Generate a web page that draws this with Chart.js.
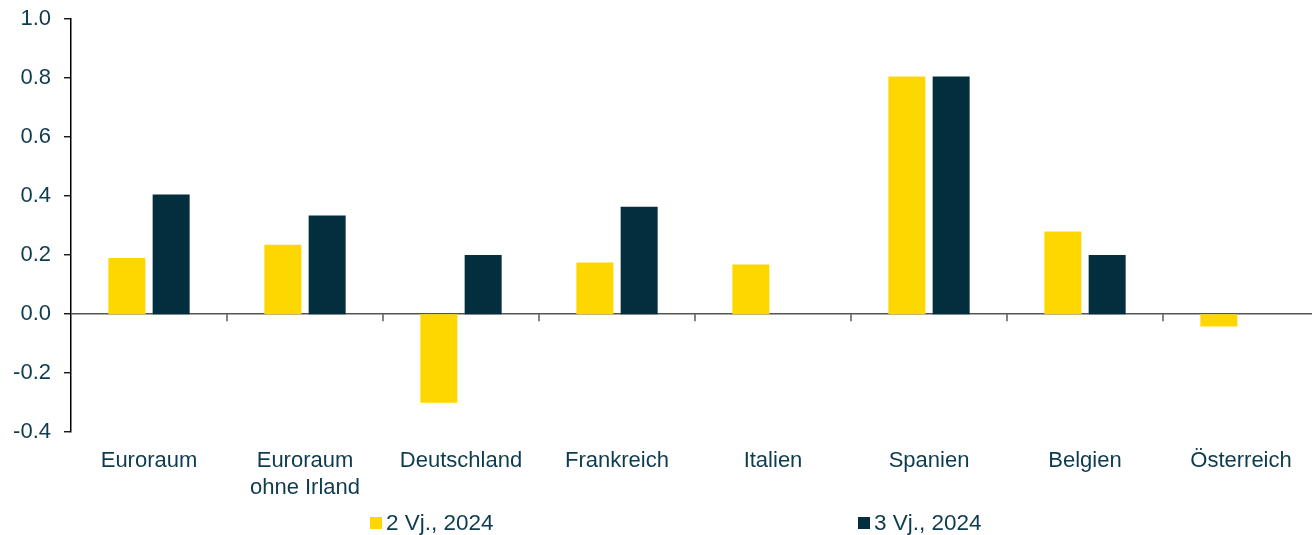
<!DOCTYPE html>
<html>
<head>
<meta charset="utf-8">
<script src="https://cdn.jsdelivr.net/npm/chart.js@4.4.1/dist/chart.umd.min.js"></script>
<style>
  html, body { margin: 0; padding: 0; background: #fff; overflow: hidden; }
  #wrap { position: relative; width: 1312px; height: 535px; overflow: hidden; }
  #box { position: absolute; left: 0; top: 0; width: 1319px; height: 535px; }
  #legend { position: absolute; top: 510px; left: 0; font: 22.5px "Liberation Sans", Arial, sans-serif; color: #0e3b4d; }
  #legend .item { position: absolute; white-space: nowrap; display: flex; align-items: center; }
  #legend .sw { display: inline-block; width: 12px; height: 12px; margin-right: 4px; }
</style>
</head>
<body>
<div id="wrap">
  <div id="box"><canvas id="gdp" width="1319" height="535"></canvas></div>
  <div id="legend"></div>
</div>
<script>
var countries = ['Euroraum', ['Euroraum', 'ohne Irland'], 'Deutschland', 'Frankreich', 'Italien', 'Spanien', 'Belgien', 'Österreich'];
var q2_2024 = [0.19, 0.235, -0.30, 0.175, 0.168, 0.805, 0.28, -0.042];
var q3_2024 = [0.405, 0.334, 0.20, 0.364, 0, 0.805, 0.20, null];
var seriesNames = ['2 Vj., 2024', '3 Vj., 2024'];
var seriesColors = ['#ffd700', '#032e3d'];
var legendLeft = [370, 858];

var textColor = '#0e3b4d';
Chart.defaults.font.family = '"Liberation Sans", Arial, sans-serif';
Chart.defaults.font.size = 22;
Chart.defaults.color = textColor;

// little downward ticks on the zero line between the categories
var zeroTicks = {
    id: 'zeroTicks',
    afterDatasetsDraw: function (chart) {
        var x = chart.scales.x, y = chart.scales.y, ctx = chart.ctx;
        var y0 = y.getPixelForValue(0);
        ctx.save();
        ctx.strokeStyle = '#404040';
        ctx.lineWidth = 1.3;
        for (var i = 0; i < countries.length - 1; i++) {
            var bx = (x.getPixelForTick(i) + x.getPixelForTick(i + 1)) / 2;
            ctx.beginPath();
            ctx.moveTo(bx, y0);
            ctx.lineTo(bx, y0 + 7);
            ctx.stroke();
        }
        ctx.restore();
    }
};

function isZero(v) { return Math.abs(v) < 1e-9; }

var gdpChart = new Chart(document.getElementById('gdp'), {
    type: 'bar',
    data: {
        labels: countries,
        datasets: [
            { label: seriesNames[0], data: q2_2024, backgroundColor: seriesColors[0] },
            { label: seriesNames[1], data: q3_2024, backgroundColor: seriesColors[1] }
        ]
    },
    options: {
        responsive: false,
        animation: false,
        categoryPercentage: 0.568,
        barPercentage: 0.835,
        layout: { padding: { top: 19, right: 0, bottom: 18, left: 0 } },
        plugins: {
            legend: { display: false },
            tooltip: { enabled: false }
        },
        scales: {
            x: {
                grid: { display: false, drawTicks: false },
                border: { display: false },
                ticks: { padding: 16, color: textColor, maxRotation: 0, autoSkip: false, font: { size: 22, lineHeight: 1.2 } }
            },
            y: {
                min: -0.4,
                max: 1.0,
                afterFit: function (scale) {
                    scale.width = 71;
                    scale.paddingTop = 0;
                },
                border: { display: true, color: '#000', width: 1.5 },
                grid: {
                    color: function (c) { return c.tick && isZero(c.tick.value) ? '#555' : 'transparent'; },
                    lineWidth: 1.5,
                    tickLength: 7,
                    tickColor: '#000',
                    tickWidth: 1.3
                },
                ticks: {
                    stepSize: 0.2,
                    padding: 13,
                    color: textColor,
                    callback: function (v) { return isZero(v) ? '0.0' : v.toFixed(1); }
                }
            }
        }
    },
    plugins: [zeroTicks]
});

var legendDiv = document.getElementById('legend');
gdpChart.data.datasets.forEach(function (ds, i) {
    var item = document.createElement('div');
    item.className = 'item';
    item.style.left = legendLeft[i] + 'px';
    item.innerHTML = '<span class="sw" style="background:' + ds.backgroundColor + '"></span>' + ds.label;
    legendDiv.appendChild(item);
});
</script>
</body>
</html>
